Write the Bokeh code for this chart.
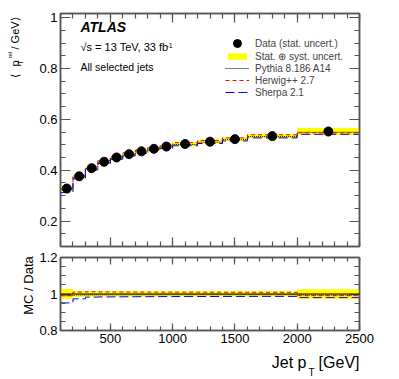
import numpy as np
from bokeh.plotting import figure
from bokeh.models import (Range1d, LinearAxis, FixedTicker, Label, Legend,
                          LegendItem, Span, CustomLabelingPolicy)
from bokeh.layouts import column, row
from bokeh.embed import file_html
from bokeh.resources import INLINE

# ---------------- data ----------------
bin_edges = [100, 200, 300, 400, 500, 600, 700, 800, 900, 1000, 1200, 1400, 1600, 2000, 2500]
data_vals = [0.328, 0.376, 0.408, 0.433, 0.450, 0.463, 0.474, 0.484, 0.493, 0.503, 0.512, 0.522, 0.534, 0.552]
syst_unc = [0.009, 0.006, 0.006, 0.0065, 0.0065, 0.007, 0.007, 0.007, 0.0072, 0.0075, 0.0075, 0.0078, 0.008, 0.014]
pythia_vals = [0.325, 0.374, 0.406, 0.431, 0.448, 0.461, 0.472, 0.482, 0.491, 0.501, 0.510, 0.520, 0.532, 0.549]
herwig_vals = [0.325, 0.380, 0.413, 0.438, 0.455, 0.468, 0.479, 0.489, 0.498, 0.508, 0.517, 0.527, 0.539, 0.547]
sherpa_vals = [0.312, 0.366, 0.401, 0.426, 0.443, 0.456, 0.467, 0.477, 0.486, 0.496, 0.505, 0.515, 0.527, 0.541]

x_major = [500, 1000, 1500, 2000, 2500]
x_minor = list(range(100, 2501, 100))
top_y_major = [0.2, 0.4, 0.6, 0.8, 1.0]
top_y_minor = [0.1, 0.15, 0.2, 0.25, 0.3, 0.35, 0.4, 0.45, 0.5, 0.55, 0.6, 0.65, 0.7, 0.75, 0.8, 0.85, 0.9, 0.95, 1.0]
rat_y_major = [0.8, 1.0, 1.2]
rat_y_minor = [0.8, 0.85, 0.9, 0.95, 1.0, 1.05, 1.1, 1.15, 1.2]

FONT = "Liberation Sans"
AX_COL = "#555555"

edges = np.array(bin_edges, dtype=float)
left, right = edges[:-1], edges[1:]
centers = 0.5 * (left + right)
data = np.array(data_vals)
unc = np.array(syst_unc)
pyt = np.array(pythia_vals)
her = np.array(herwig_vals)
she = np.array(sherpa_vals)


def step_y(v):
    return np.append(v, v[-1])


def make_axis(ticks, minor, major_in, minor_in, labels, overrides=None):
    ax = LinearAxis(ticker=FixedTicker(ticks=ticks, minor_ticks=minor))
    ax.major_tick_in = major_in
    ax.major_tick_out = 0
    ax.minor_tick_in = minor_in
    ax.minor_tick_out = 0
    ax.axis_line_color = AX_COL
    ax.axis_line_width = 1.5
    ax.major_tick_line_color = AX_COL
    ax.minor_tick_line_color = AX_COL
    ax.major_tick_line_width = 1.2
    ax.minor_tick_line_width = 1.2
    if labels:
        ax.major_label_text_font = FONT
        ax.major_label_text_font_size = "13px"
        ax.major_label_text_color = "black"
        ax.major_label_standoff = 3
        if overrides:
            ax.major_label_overrides = overrides
    else:
        ax.major_label_policy = CustomLabelingPolicy(code="return []")
        ax.major_label_text_font_size = "0px"
        ax.major_label_standoff = 0
    return ax


def blank_fig(w, h):
    f = figure(width=w, height=h, x_range=Range1d(0, 1), y_range=Range1d(0, 1),
               x_axis_type=None, y_axis_type=None, output_backend="svg",
               toolbar_location=None, min_border=0)
    f.outline_line_color = None
    return f


def lab(p, text, x, y, size, **kw):
    p.add_layout(Label(x=x, y=y, x_units="screen", y_units="screen", text=text,
                       text_font=FONT, text_font_size=size, text_color="black", **kw))


x_range = Range1d(100, 2500)

# ---------------- top panel ----------------
p1 = figure(width=355, height=249, x_range=x_range, y_range=Range1d(0.1, 1.016),
            x_axis_type=None, y_axis_type=None, output_backend="svg",
            toolbar_location=None, min_border_left=24, min_border_right=32,
            min_border_top=13, min_border_bottom=3)
p1.outline_line_color = AX_COL
p1.outline_line_width = 1.5
p1.add_layout(make_axis(top_y_major, top_y_minor, 10, 5, True, {1: "1"}), "left")
p1.add_layout(make_axis(top_y_major, top_y_minor, 10, 5, False), "right")
p1.add_layout(make_axis(x_major, x_minor, 9, 5, False), "above")
p1.add_layout(make_axis(x_major, x_minor, 9, 5, False), "below")

band = p1.quad(left=left, right=right, bottom=data - unc, top=data + unc,
               fill_color="#ffff00", line_color=None)
r_pyt = p1.step(x=edges, y=step_y(pyt), mode="after", line_color="black",
                line_dash="1 1", line_width=1)
r_her = p1.step(x=edges, y=step_y(her), mode="after", line_color="#ff0000",
                line_dash="4 3", line_width=1)
r_she = p1.step(x=edges, y=step_y(she), mode="after", line_color="#0000ff",
                line_dash="9 4", line_width=1)
r_dat = p1.scatter(x=centers, y=data, marker="circle", size=9,
                   fill_color="black", line_color="black")

leg_a = Legend(items=[LegendItem(label="Data (stat. uncert.)", renderers=[r_dat])],
               location=(165, 193), glyph_width=24, glyph_height=20, label_height=20,
               label_standoff=6, padding=0, margin=0, spacing=0,
               border_line_alpha=0, background_fill_alpha=0,
               label_text_font=FONT, label_text_font_size="10px")
leg_b = Legend(items=[LegendItem(label="Stat. \u2295 syst. uncert.", renderers=[band]),
                      LegendItem(label="Pythia 8.186 A14", renderers=[r_pyt]),
                      LegendItem(label="Herwig++ 2.7", renderers=[r_her]),
                      LegendItem(label="Sherpa 2.1", renderers=[r_she])],
               location=(165, 148), glyph_width=24, glyph_height=8, label_height=12,
               label_standoff=6, padding=0, margin=0, spacing=0,
               border_line_alpha=0, background_fill_alpha=0,
               label_text_font=FONT, label_text_font_size="10px")
p1.add_layout(leg_a)
p1.add_layout(leg_b)

lab(p1, "ATLAS", 20, 212, "14px", text_font_style="bold italic")
lab(p1, "\u221As = 13 TeV, 33 fb", 20, 194, "11px")
lab(p1, "-1", 106, 199, "7px")
lab(p1, "All selected jets", 20, 174, "10.5px")

# ---------------- ratio panel ----------------
p2 = figure(width=355, height=103, x_range=x_range, y_range=Range1d(0.8, 1.2),
            x_axis_type=None, y_axis_type=None, output_backend="svg",
            toolbar_location=None, min_border_left=24, min_border_right=32,
            min_border_top=8, min_border_bottom=22)
p2.outline_line_color = AX_COL
p2.outline_line_width = 1.5
p2.add_layout(make_axis(rat_y_major, rat_y_minor, 10, 5, True, {1: "1"}), "left")
p2.add_layout(make_axis(rat_y_major, rat_y_minor, 10, 5, False), "right")
p2.add_layout(make_axis(x_major, x_minor, 7, 4, False), "above")
p2.add_layout(make_axis(x_major, x_minor, 7, 4, True), "below")

rel = unc / data
p2.quad(left=left, right=right, bottom=1 - rel, top=1 + rel,
        fill_color="#ffff00", line_color=None)
p2.add_layout(Span(location=1.0, dimension="width", line_color="black", line_width=1.2))
p2.step(x=edges, y=step_y(pyt / data), mode="after", line_color="black",
        line_dash="1 1", line_width=1)
p2.step(x=edges, y=step_y(her / data), mode="after", line_color="#ff0000",
        line_dash="4 3", line_width=1)
p2.step(x=edges, y=step_y(she / data), mode="after", line_color="#0000ff",
        line_dash="9 4", line_width=1)

# ---------------- axis titles (own canvases so they are not clipped) ----------------
TOP_H = 352
ROT = np.pi / 2
ytitle = blank_fig(36, TOP_H)
# < p_T^rel / GeV >   (page y -> screen y = TOP_H - page_y)
lab(ytitle, "\u27e8", 14, TOP_H - 77, "11px", angle=ROT, text_baseline="middle")
lab(ytitle, "p", 14, TOP_H - 66, "11px", angle=ROT, text_baseline="middle")
lab(ytitle, "T", 20, TOP_H - 64, "7px", angle=ROT, text_baseline="middle")
lab(ytitle, "rel", 9, TOP_H - 58, "6px", angle=ROT, text_baseline="middle")
lab(ytitle, "/ GeV", 14, TOP_H - 49, "11px", angle=ROT, text_baseline="middle")
lab(ytitle, "\u27e9", 14, TOP_H - 20, "11px", angle=ROT, text_baseline="middle")
lab(ytitle, "MC / Data", 28, TOP_H - 285, "13px", angle=ROT, text_align="center",
    text_baseline="middle")

# x-axis title strip spanning the full width (page x 0..391, page y 352..376)
xtitle = blank_fig(391, 24)
lab(xtitle, "Jet p", 306, 6, "16px", text_align="right")
lab(xtitle, "T", 308, -1, "10px")
lab(xtitle, "[GeV]", 359, 6, "16px", text_align="right")

layout = column(row(ytitle, column(p1, p2, spacing=0), spacing=0), xtitle, spacing=0)
open("out.html", "w").write(file_html(layout, INLINE))
